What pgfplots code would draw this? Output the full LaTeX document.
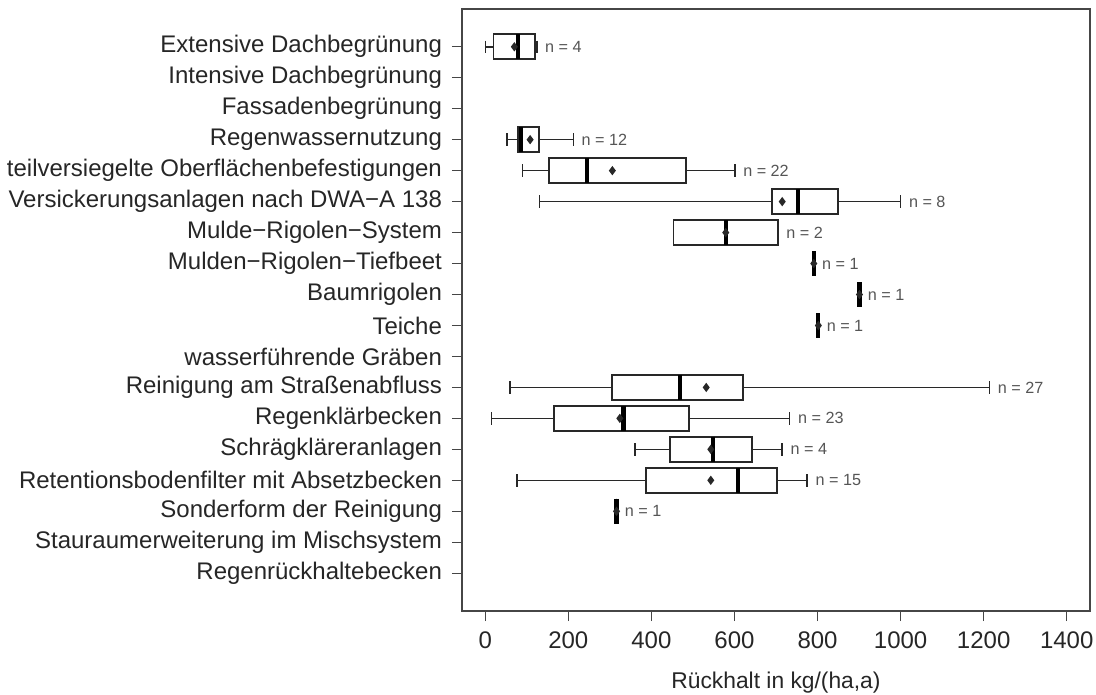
\documentclass[border=0pt]{standalone}
\usepackage{fontspec}
\setmainfont{Liberation Sans}
\usepackage{pgfplots}
\pgfplotsset{compat=1.18}
\usepgfplotslibrary{statistics}

\definecolor{boxline}{RGB}{40,40,40}
\definecolor{framec}{RGB}{70,70,70}
\definecolor{ncol}{RGB}{85,85,85}

% one horizontal box per category, rows counted from the top
\pgfplotsset{
  bx/.style={
    boxline, line width=0.9pt,
    boxplot/box extend=0.8,
    boxplot/whisker extend=0.4,
    boxplot/every median/.style={line width=2.1pt, black},
    boxplot/every whisker/.style={line width=0.75pt},
    boxplot/every average/.style={/tikz/mark=diamond*, /tikz/mark size=1.6pt, /tikz/fill=black, /tikz/draw=black, /tikz/line width=0.3pt},
  },
}
\newcommand{\nlab}[3]{\node[anchor=west, inner sep=0pt, xshift=4pt, text=ncol, font=\fontsize{8.1}{9}\selectfont] at (axis cs:#1,#2) {#3};}

\begin{document}
\begin{tikzpicture}
\useasboundingbox (-231pt,-41.6pt) rectangle (317pt,305.5pt);
\begin{axis}[
    at={(0,0)}, anchor=south west,
    scale only axis,
    width=314pt, height=301pt,
    xmin=-56, xmax=1456,
    ymin=-0.22, ymax=19.22,
    y dir=reverse,
    xtick={0,200,400,600,800,1000,1200,1400},
    ytick={1,...,18},
    yticklabels={
      Extensive Dachbegrünung,
      Intensive Dachbegrünung,
      Fassadenbegrünung,
      Regenwassernutzung,
      teilversiegelte Oberflächenbefestigungen,
      Versickerungsanlagen nach DWA−A 138,
      Mulde−Rigolen−System,
      Mulden−Rigolen−Tiefbeet,
      Baumrigolen,
      Teiche,
      wasserführende Gräben,
      Reinigung am Straßenabfluss,
      Regenklärbecken,
      Schrägkläreranlagen,
      Retentionsbodenfilter mit Absetzbecken,
      Sonderform der Reinigung,
      Stauraumerweiterung im Mischsystem,
      Regenrückhaltebecken},
    xtick pos=bottom, ytick pos=left,
    tick align=outside,
    major tick length=5pt,
    axis line style={framec, line width=0.7pt},
    every tick/.style={framec, line width=0.7pt},
    /pgf/number format/assume math mode=true,
    /pgf/number format/1000 sep={},
    tick label style={font=\fontsize{12}{13}\selectfont, text=black!85},
    yticklabel style={xshift=-1.5pt},
    xticklabel style={yshift=-2pt},
    xlabel={Rückhalt in kg/(ha,a)},
    xlabel style={font=\fontsize{11.4}{12}\selectfont, text=black!85, at={(0.5,0)}, anchor=center, yshift=-36pt},
    clip=false,
]

% Extensive Dachbegruenung, n = 4
\addplot[bx, boxplot prepared={draw position=1, lower whisker=0, lower quartile=20, median=78, upper quartile=120, upper whisker=124, average=70}] coordinates {};
\nlab{124}{1}{n = 4}
% Regenwassernutzung, n = 12
\addplot[bx, boxplot prepared={draw position=4, lower whisker=52, lower quartile=79, median=86, upper quartile=130, upper whisker=212, average=108}] coordinates {};
\nlab{212}{4}{n = 12}
% teilversiegelte Oberflaechenbefestigungen, n = 22
\addplot[bx, boxplot prepared={draw position=5, lower whisker=90, lower quartile=154, median=245, upper quartile=484, upper whisker=601, average=306}] coordinates {};
\nlab{601}{5}{n = 22}
% Versickerungsanlagen, n = 8
\addplot[bx, boxplot prepared={draw position=6, lower whisker=130, lower quartile=690, median=753, upper quartile=850, upper whisker=1000, average=715}] coordinates {};
\nlab{1000}{6}{n = 8}
% Mulde-Rigolen-System, n = 2
\addplot[bx, boxplot prepared={draw position=7, lower whisker=453, lower quartile=453, median=579, upper quartile=705, upper whisker=705, average=579}] coordinates {};
\nlab{705}{7}{n = 2}
% Mulden-Rigolen-Tiefbeet, n = 1
\addplot[bx, boxplot prepared={draw position=8, lower whisker=791, lower quartile=791, median=791, upper quartile=791, upper whisker=791, average=791}] coordinates {};
\nlab{791}{8}{n = 1}
% Baumrigolen, n = 1
\addplot[bx, boxplot prepared={draw position=9, lower whisker=901, lower quartile=901, median=901, upper quartile=901, upper whisker=901, average=901}] coordinates {};
\nlab{901}{9}{n = 1}
% Teiche, n = 1
\addplot[bx, boxplot prepared={draw position=10, lower whisker=802, lower quartile=802, median=802, upper quartile=802, upper whisker=802, average=802}] coordinates {};
\nlab{802}{10}{n = 1}
% Reinigung am Strassenabfluss, n = 27
\addplot[bx, boxplot prepared={draw position=12, lower whisker=60, lower quartile=306, median=468, upper quartile=621, upper whisker=1214, average=532}] coordinates {};
\nlab{1214}{12}{n = 27}
% Regenklaerbecken, n = 23
\addplot[bx, boxplot prepared={draw position=13, lower whisker=15, lower quartile=165, median=333, upper quartile=491, upper whisker=733, average=324}] coordinates {};
\nlab{733}{13}{n = 23}
% Schraegklaeranlagen, n = 4
\addplot[bx, boxplot prepared={draw position=14, lower whisker=360, lower quartile=444, median=548, upper quartile=643, upper whisker=715, average=543}] coordinates {};
\nlab{715}{14}{n = 4}
% Retentionsbodenfilter, n = 15
\addplot[bx, boxplot prepared={draw position=15, lower whisker=76, lower quartile=387, median=609, upper quartile=702, upper whisker=775, average=543}] coordinates {};
\nlab{775}{15}{n = 15}
% Sonderform der Reinigung, n = 1
\addplot[bx, boxplot prepared={draw position=16, lower whisker=316, lower quartile=316, median=316, upper quartile=316, upper whisker=316, average=316}] coordinates {};
\nlab{316}{16}{n = 1}

\end{axis}
\end{tikzpicture}
\end{document}
